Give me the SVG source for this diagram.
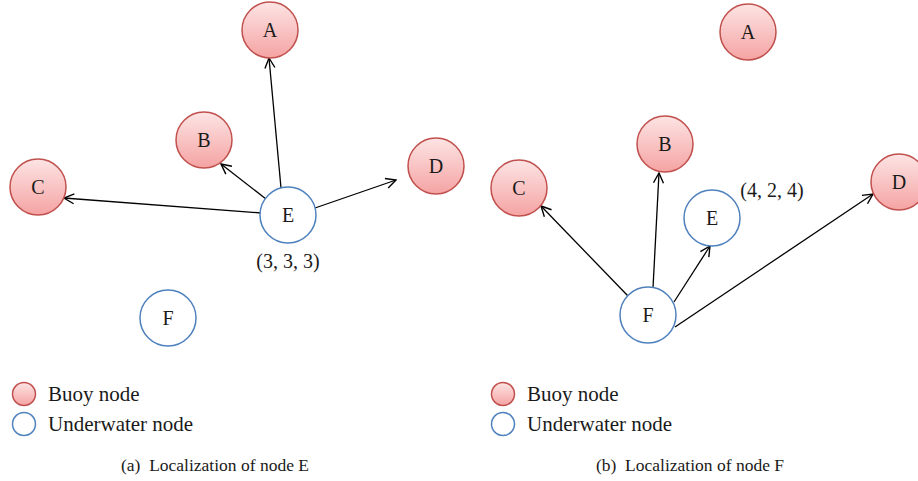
<svg xmlns="http://www.w3.org/2000/svg" width="918" height="481" viewBox="0 0 918 481">
  <defs>
    <linearGradient id="buoyFill" x1="0" y1="0" x2="0" y2="1">
      <stop offset="0" stop-color="#fde4e4"/>
      <stop offset="1" stop-color="#f5a3a3"/>
    </linearGradient>
    <marker id="arrow" viewBox="0 0 12 12" refX="11" refY="6" markerWidth="12" markerHeight="12" markerUnits="userSpaceOnUse" orient="auto">
      <path d="M1,1 L11,6 L1,11" fill="none" stroke="#000" stroke-width="1.4"/>
    </marker>
    <style>
      .buoy { fill: url(#buoyFill); stroke: #c0504d; stroke-width: 1.5; }
      .under { fill: #fff; stroke: #4f81bd; stroke-width: 1.5; }
      .lbl { font-family: "Liberation Serif", "DejaVu Serif", serif; font-size: 20px; fill: #1a1a1a; text-anchor: middle; }
      .txt { font-family: "Liberation Serif", "DejaVu Serif", serif; font-size: 21px; fill: #1a1a1a; }
      .cap { font-family: "Liberation Serif", "DejaVu Serif", serif; font-size: 17.5px; fill: #1a1a1a; text-anchor: middle; }
      .edge { stroke: #000; stroke-width: 1.3; fill: none; marker-end: url(#arrow); }
    </style>
  </defs>

  <!-- panel (a): localization of node E -->
  <g id="connectors-a">
    <line class="edge" x1="281" y1="188" x2="269" y2="58"/>
    <line class="edge" x1="266" y1="199" x2="221" y2="164"/>
    <line class="edge" x1="261" y1="213" x2="64" y2="198"/>
    <line class="edge" x1="315" y1="208" x2="396" y2="180"/>
  </g>
  <g id="a-A"><circle class="buoy" cx="270" cy="30" r="28"/><text class="lbl" x="270" y="37">A</text></g>
  <g id="a-B"><circle class="buoy" cx="204" cy="140" r="28"/><text class="lbl" x="204" y="147">B</text></g>
  <g id="a-C"><circle class="buoy" cx="38" cy="187" r="28"/><text class="lbl" x="38" y="194">C</text></g>
  <g id="a-D"><circle class="buoy" cx="436" cy="166" r="28"/><text class="lbl" x="436" y="173">D</text></g>
  <g id="a-E"><circle class="under" cx="288" cy="215" r="28"/><text class="lbl" x="288" y="222">E</text>
    <text class="lbl" x="288" y="268">(3, 3, 3)</text></g>
  <g id="a-F"><circle class="under" cx="168" cy="318" r="28"/><text class="lbl" x="168" y="325">F</text></g>

  <!-- panel (b): localization of node F -->
  <g id="connectors-b">
    <line class="edge" x1="628" y1="296" x2="541" y2="206"/>
    <line class="edge" x1="653" y1="288" x2="659" y2="173"/>
    <line class="edge" x1="674" y1="302" x2="710" y2="246"/>
    <line class="edge" x1="675" y1="327" x2="873" y2="194"/>
  </g>
  <g id="b-A"><circle class="buoy" cx="748" cy="32" r="28"/><text class="lbl" x="748" y="39">A</text></g>
  <g id="b-B"><circle class="buoy" cx="665" cy="144" r="28"/><text class="lbl" x="665" y="151">B</text></g>
  <g id="b-C"><circle class="buoy" cx="519" cy="188" r="28"/><text class="lbl" x="519" y="195">C</text></g>
  <g id="b-D"><circle class="buoy" cx="899" cy="182" r="28"/><text class="lbl" x="899" y="189">D</text></g>
  <g id="b-E"><circle class="under" cx="712" cy="218" r="28"/><text class="lbl" x="712" y="225">E</text>
    <text class="lbl" x="772" y="197">(4, 2, 4)</text></g>
  <g id="b-F"><circle class="under" cx="648" cy="315" r="28"/><text class="lbl" x="648" y="322">F</text></g>

  <!-- legends -->
  <g id="legend-a">
    <circle class="buoy" cx="24" cy="394" r="11.5"/>
    <text class="txt" x="48" y="401">Buoy node</text>
    <circle class="under" cx="24" cy="424" r="11.5"/>
    <text class="txt" x="48" y="431">Underwater node</text>
  </g>
  <g id="legend-b">
    <circle class="buoy" cx="503" cy="394" r="11.5"/>
    <text class="txt" x="527" y="401">Buoy node</text>
    <circle class="under" cx="503" cy="424" r="11.5"/>
    <text class="txt" x="527" y="431">Underwater node</text>
  </g>

  <!-- captions -->
  <text class="cap" x="215" y="471" xml:space="preserve">(a)  Localization of node E</text>
  <text class="cap" x="690" y="471" xml:space="preserve">(b)  Localization of node F</text>
</svg>
